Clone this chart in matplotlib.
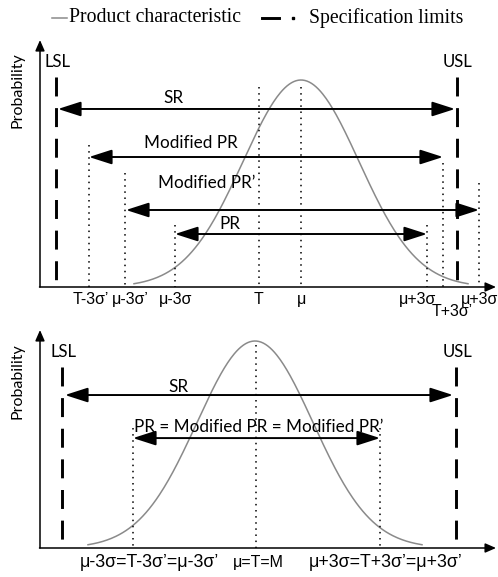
import numpy as np
import matplotlib.pyplot as plt

plt.switch_backend('agg')

# ---- data (x in figure pixels, y in units of the curve peak) ----
# top panel
top_mu = 301
top_sigma = 58
top_half_span = 167
top_lsl, top_usl, top_spec_top = 56, 457, 1.014
top_marks = [89, 125, 175, 259, 301, 427, 443, 479]
top_mark_tops = [0.686, 0.551, 0.30, 0.966, 0.966, 0.30, 0.599, 0.502]
top_tick_text = ['T-3σ’', 'μ-3σ’', 'μ-3σ', 'T', 'μ', 'μ+3σ', 'T+3σ’', 'μ+3σ']
top_tick_x = [91, 130, 176, 258, 302, 418, 452, 480]
top_tick_y = [-0.058, -0.058, -0.058, -0.058, -0.058, -0.058, -0.118, -0.058]
top_ranges = ['SR', 'Modified PR', 'Modified PR’', 'PR']
top_range_x0 = [58, 89, 126, 175]
top_range_x1 = [455, 443, 479, 427]
top_range_y = [0.86, 0.628, 0.372, 0.256]
top_range_label_x = [173, 191, 207, 230]
top_range_label_y = [0.913, 0.696, 0.502, 0.304]

# bottom panel
bot_mu = 255
bot_sigma = 58
bot_half_span = 167
bot_lsl, bot_usl, bot_spec_top = 62, 456, 0.874
bot_marks = [133, 256, 380]
bot_mark_tops = [0.58, 0.98, 0.58]
bot_tick_text = ['μ-3σ=T-3σ’=μ-3σ’', 'μ=T=M', 'μ+3σ=T+3σ’=μ+3σ’']
bot_tick_x = [149, 258, 386]
bot_tick_size = [12.8, 11.5, 12.8]
bot_ranges = ['SR', 'PR = Modified PR = Modified PR’']
bot_range_x0 = [65, 133]
bot_range_x1 = [453, 380]
bot_range_y = [0.739, 0.531]
bot_range_label_x = [178, 259]
bot_range_label_y = [0.778, 0.585]

LABEL_FONT = 'Lato'
TICK_FONT = 'Liberation Sans'
GRAY = '#8a8a8a'


def draw_panel(ax, mu, sigma, half_span, lsl, usl, spec_top, marks, mark_tops,
               ranges, rx0, rx1, ry, lx, ly, axis_top, prob_y):
    ax.set_xlim(0, 498)
    ax.axis('off')

    # axes with arrow heads
    ax.annotate('', xy=(40, axis_top), xytext=(40, 0),
                arrowprops=dict(arrowstyle='-|>,head_length=0.8,head_width=0.35',
                                lw=1.1, color='black', shrinkA=0, shrinkB=0,
                                mutation_scale=8))
    ax.annotate('', xy=(496, 0), xytext=(39.5, 0),
                arrowprops=dict(arrowstyle='-|>,head_length=0.8,head_width=0.35',
                                lw=1.1, color='black', shrinkA=0, shrinkB=0,
                                mutation_scale=8))
    ax.text(18, prob_y, 'Probability', rotation=90, ha='center', va='center',
            fontsize=11.5, family=LABEL_FONT)

    # product characteristic
    x = np.linspace(mu - half_span, mu + half_span, 300)
    ax.plot(x, np.exp(-(x - mu) ** 2 / (2 * sigma ** 2)), color=GRAY, lw=1.1)

    # specification limits
    for xs, name in [(lsl, 'LSL'), (usl, 'USL')]:
        ax.plot([xs, xs], [spec_top, 0], color='black', lw=2.1,
                linestyle=(0, (6.5, 4)))
        ax.text(xs + 1, spec_top + 0.075, name, ha='center', va='center',
                fontsize=12, family=LABEL_FONT)

    # dotted reference lines
    for xm, tm in zip(marks, mark_tops):
        ax.plot([xm, xm], [tm, 0], color='black', lw=1.1, linestyle=(0, (1, 3)))

    # ranges
    for name, x0, x1, y, tx, ty in zip(ranges, rx0, rx1, ry, lx, ly):
        ax.annotate('', xy=(x1, y), xytext=(x0, y),
                    arrowprops=dict(arrowstyle='<|-|>,head_length=1.4,head_width=0.45',
                                    lw=1.4, color='black', shrinkA=0, shrinkB=0,
                                    mutation_scale=10))
        ax.text(tx, ty, name, ha='center', va='center', fontsize=12.3,
                family=LABEL_FONT)


fig = plt.figure(figsize=(4.98, 5.77), dpi=100)

ax1 = fig.add_axes([0, (577 - 322) / 577, 1, 322 / 577])
ax1.set_ylim((287 - 322) / 207, 287 / 207)
draw_panel(ax1, top_mu, top_sigma, top_half_span, top_lsl, top_usl, top_spec_top,
           top_marks, top_mark_tops, top_ranges, top_range_x0, top_range_x1,
           top_range_y, top_range_label_x, top_range_label_y, 1.193, 0.952)
for t, tx, ty in zip(top_tick_text, top_tick_x, top_tick_y):
    ax1.text(tx, ty, t, ha='center', va='center', fontsize=11.5, family=TICK_FONT,
             clip_on=False)

# legend drawn by hand along the top
leg_y = (287 - 18) / 207
ax1.plot([52, 67], [leg_y, leg_y], color=GRAY, lw=1.1, clip_on=False)
ax1.text(69, leg_y, 'Product characteristic', ha='left', va='center',
         fontsize=14.2, family='Liberation Serif', clip_on=False)
ax1.plot([262, 279], [leg_y, leg_y], color='black', lw=2.1, clip_on=False)
ax1.plot([293], [leg_y], 's', color='black', ms=1.8, clip_on=False)
ax1.text(309, leg_y, 'Specification limits', ha='left', va='center',
         fontsize=14.2, family='Liberation Serif', clip_on=False)

ax2 = fig.add_axes([0, 0, 1, 255 / 577])
ax2.set_ylim((548 - 577) / 207, (548 - 322) / 207)
draw_panel(ax2, bot_mu, bot_sigma, bot_half_span, bot_lsl, bot_usl, bot_spec_top,
           bot_marks, bot_mark_tops, bot_ranges, bot_range_x0, bot_range_x1,
           bot_range_y, bot_range_label_x, bot_range_label_y, 1.053, 0.807)
for t, tx, fs in zip(bot_tick_text, bot_tick_x, bot_tick_size):
    ax2.text(tx, -0.072, t, ha='center', va='center', fontsize=fs,
             family=TICK_FONT, clip_on=False)

plt.savefig('out.png', dpi=100)
plt.close()
